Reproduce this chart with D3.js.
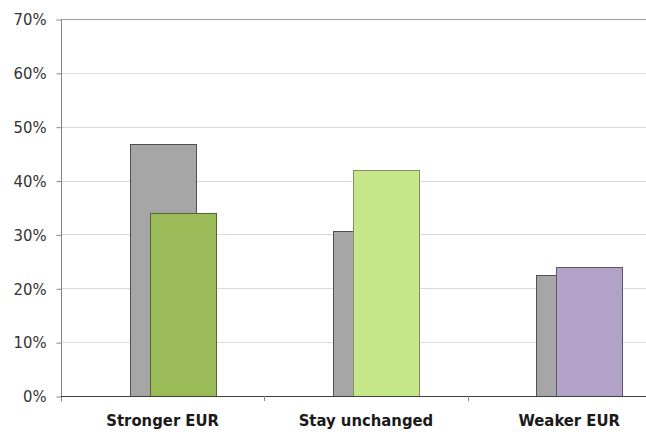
<!DOCTYPE html>
<html>
<head>
<meta charset="utf-8">
<script src="https://cdn.jsdelivr.net/npm/d3@7"></script>
<style>
  html, body { margin: 0; padding: 0; background: #fff; }
  svg { display: block; }
</style>
</head>
<body>
<svg id="chart" width="646" height="435"></svg>
<script>
const categories = ["Stronger EUR", "Stay unchanged", "Weaker EUR"];
const backValues = [0.467, 0.307, 0.225];
const frontValues = [0.340, 0.420, 0.240];
const frontColors = ["#9bbb59", "#c6e68a", "#b2a2c7"];
const frontStrokes = ["#4f6a2a", "#7f9360", "#5f566b"];
const yTicks = [0, 0.1, 0.2, 0.3, 0.4, 0.5, 0.6, 0.7];

const svg = d3.select("#chart");
const mLeft = 61, mTop = 19, mBottom = 396, bandW = 203.3;
const mRight = mLeft + bandW * categories.length;

const x = d3.scaleBand().domain(categories).range([mLeft, mRight]).paddingInner(0).paddingOuter(0);
const y = d3.scaleLinear().domain([0, 0.7]).range([mBottom, mTop]);

// gridlines
svg.append("g").selectAll("line").data(yTicks.filter(d => d > 0)).join("line")
  .attr("x1", mLeft).attr("x2", 646)
  .attr("y1", d => Math.round(y(d)) + 0.5).attr("y2", d => Math.round(y(d)) + 0.5)
  .attr("stroke", d => d === 0.7 ? "#a0a0a0" : "#d9d9d9")
  .attr("stroke-width", 1);

const barW = 66, offBack = -33, offFront = -13;
const cx = d => x(d) + x.bandwidth() / 2;

// back (gray) bars
svg.append("g").selectAll("rect").data(categories).join("rect")
  .attr("x", (d) => Math.round(cx(d) + offBack) + 0.5)
  .attr("y", (d, i) => Math.round(y(backValues[i])) + 0.5)
  .attr("width", barW)
  .attr("height", (d, i) => mBottom - Math.round(y(backValues[i])))
  .attr("fill", "#a6a6a6")
  .attr("stroke", "#505050")
  .attr("stroke-width", 1);

// front bars
svg.append("g").selectAll("rect").data(categories).join("rect")
  .attr("x", (d) => Math.round(cx(d) + offFront) + 0.5)
  .attr("y", (d, i) => Math.round(y(frontValues[i])) + 0.5)
  .attr("width", barW)
  .attr("height", (d, i) => mBottom - Math.round(y(frontValues[i])))
  .attr("fill", (d, i) => frontColors[i])
  .attr("stroke", (d, i) => frontStrokes[i])
  .attr("stroke-width", 1);

// y axis
const yAxis = d3.axisLeft(y).tickValues(yTicks).tickFormat(d3.format(".0%")).tickSizeOuter(0).tickSize(5).tickPadding(10);
const gy = svg.append("g").attr("transform", `translate(${mLeft + 0.5},0.5)`).call(yAxis);
gy.select(".domain").attr("stroke", "#868686").attr("d", `M0,${mTop}V${mBottom + 5}`);
gy.selectAll(".tick line").attr("stroke", "#868686");
gy.selectAll("text").attr("fill", "#333").style("font-family", "'DejaVu Sans Condensed',sans-serif").style("font-size", "16.5px");

// x axis
const xAxis = d3.axisBottom(x).tickSize(0).tickPadding(18).tickSizeOuter(0);
const gx = svg.append("g").attr("transform", `translate(0,${mBottom + 0.5})`).call(xAxis);
gx.select(".domain").attr("stroke", "#404040").attr("d", `M${mLeft},0H646`);
gx.selectAll("text").attr("fill", "#1a1a1a").style("font-family", "'DejaVu Sans Condensed',sans-serif").style("font-size", "16.5px").style("font-weight", "bold");

// category separator ticks
svg.append("g").selectAll("line").data(categories.slice(1)).join("line")
  .attr("x1", d => Math.round(x(d)) + 0.5).attr("x2", d => Math.round(x(d)) + 0.5)
  .attr("y1", mBottom).attr("y2", mBottom + 5)
  .attr("stroke", "#868686");
</script>
</body>
</html>
